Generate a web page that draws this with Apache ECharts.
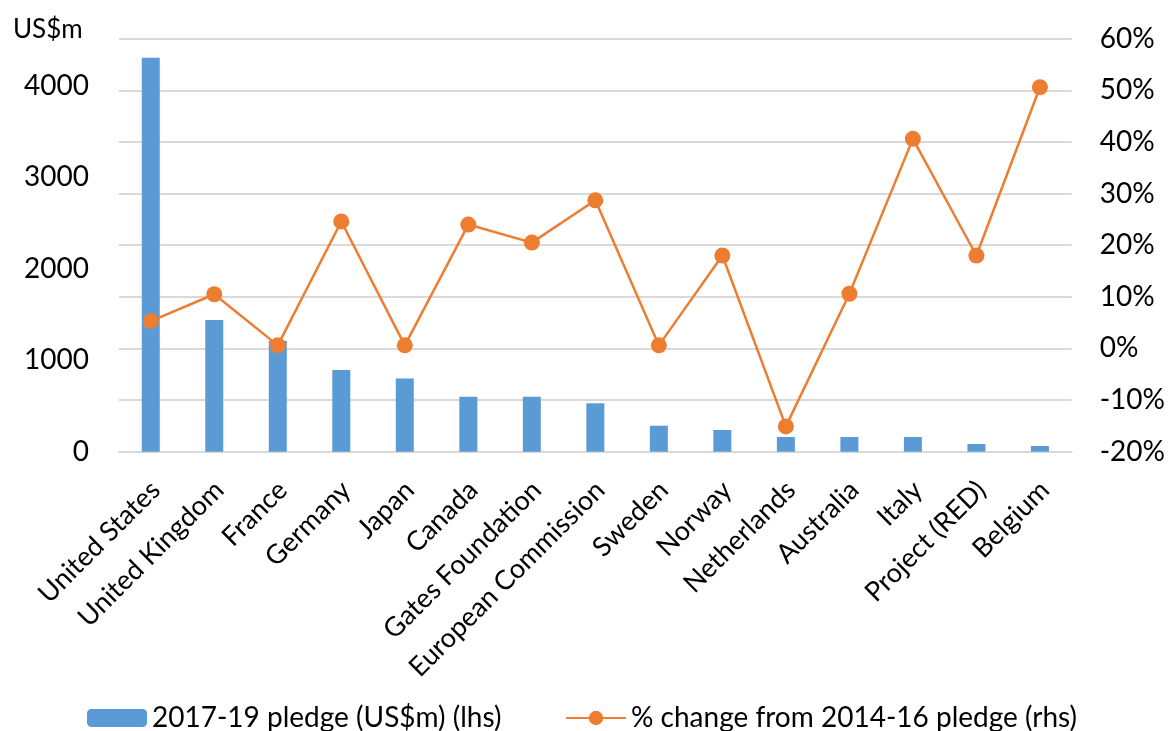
<!DOCTYPE html>
<html>
<head>
<meta charset="utf-8">
<script src="https://cdn.jsdelivr.net/npm/echarts@6/dist/echarts.min.js"></script>
<style>
html,body{margin:0;padding:0;background:#fff;}
#chart{width:1168px;height:731px;}
</style>
</head>
<body>
<div id="chart"></div>
<script>
const categories = ['United States','United Kingdom','France','Germany','Japan','Canada','Gates Foundation','European Commission','Sweden','Norway','Netherlands','Australia','Italy','Project (RED)','Belgium'];
const pledge = [4306, 1439, 1213, 893, 799, 601, 601, 529, 284, 237, 161, 161, 161, 84, 62];
const change = [5.3, 10.5, 0.6, 24.6, 0.6, 24.0, 20.5, 28.7, 0.6, 18.0, -15.1, 10.6, 40.6, 18.0, 50.6];
const leftTicks = [0, 1000, 2000, 3000, 4000];
const barName = '2017-19 pledge (US$m) (lhs)';
const lineName = '% change from 2014-16 pledge (rhs)';

const FONT = 'Lato, "Open Sans", sans-serif';
const chart = echarts.init(document.getElementById('chart'));
chart.setOption({
  animation: false,
  textStyle: { fontFamily: FONT, color: '#000' },
  grid: { left: 119, right: 92, top: 38.7, bottom: 279.3, containLabel: false },
  graphic: [{
    type: 'text', left: 13, top: 17,
    style: { text: 'US$m', font: '26px ' + FONT, fill: '#000' }
  }],
  legend: [
    { data: [barName], left: 87, top: 704, padding: 0, itemWidth: 60, itemHeight: 18,
      textStyle: { fontSize: 28, color: '#000', fontFamily: FONT } },
    { data: [lineName], left: 565, top: 704, padding: 0, itemWidth: 60, itemHeight: 18,
      textStyle: { fontSize: 28, color: '#000', fontFamily: FONT } }
  ],
  xAxis: {
    type: 'category', data: categories,
    axisLine: { lineStyle: { color: '#d9d9d9', width: 2 } },
    axisTick: { show: false },
    axisLabel: { rotate: 45, interval: 0, fontSize: 27, color: '#000', margin: 29,
      verticalAlign: 'top', lineHeight: 14, fontFamily: FONT }
  },
  yAxis: [
    {
      type: 'value', min: 0, max: 4514, interval: 1000, position: 'left',
      axisLine: { show: false }, axisTick: { show: false }, splitLine: { show: false },
      axisLabel: { fontSize: 28, color: '#000', margin: 30, showMaxLabel: false, fontFamily: FONT,
        formatter: v => leftTicks.includes(v) ? String(v) : '' }
    },
    {
      type: 'value', min: -20, max: 60, interval: 10, position: 'right',
      axisLine: { show: false }, axisTick: { show: false },
      splitLine: { show: true, lineStyle: { color: '#d9d9d9', width: 2 } },
      axisLabel: { fontSize: 28, color: '#000', margin: 28, formatter: '{value}%', fontFamily: FONT }
    }
  ],
  series: [
    { name: barName, type: 'bar', data: pledge, yAxisIndex: 0, barWidth: 18,
      itemStyle: { color: '#5B9BD5' } },
    { name: lineName, type: 'line', data: change, yAxisIndex: 1,
      symbol: 'circle', symbolSize: 16,
      lineStyle: { color: '#ED7D31', width: 2.5 },
      itemStyle: { color: '#ED7D31' } }
  ]
});
</script>
</body>
</html>
